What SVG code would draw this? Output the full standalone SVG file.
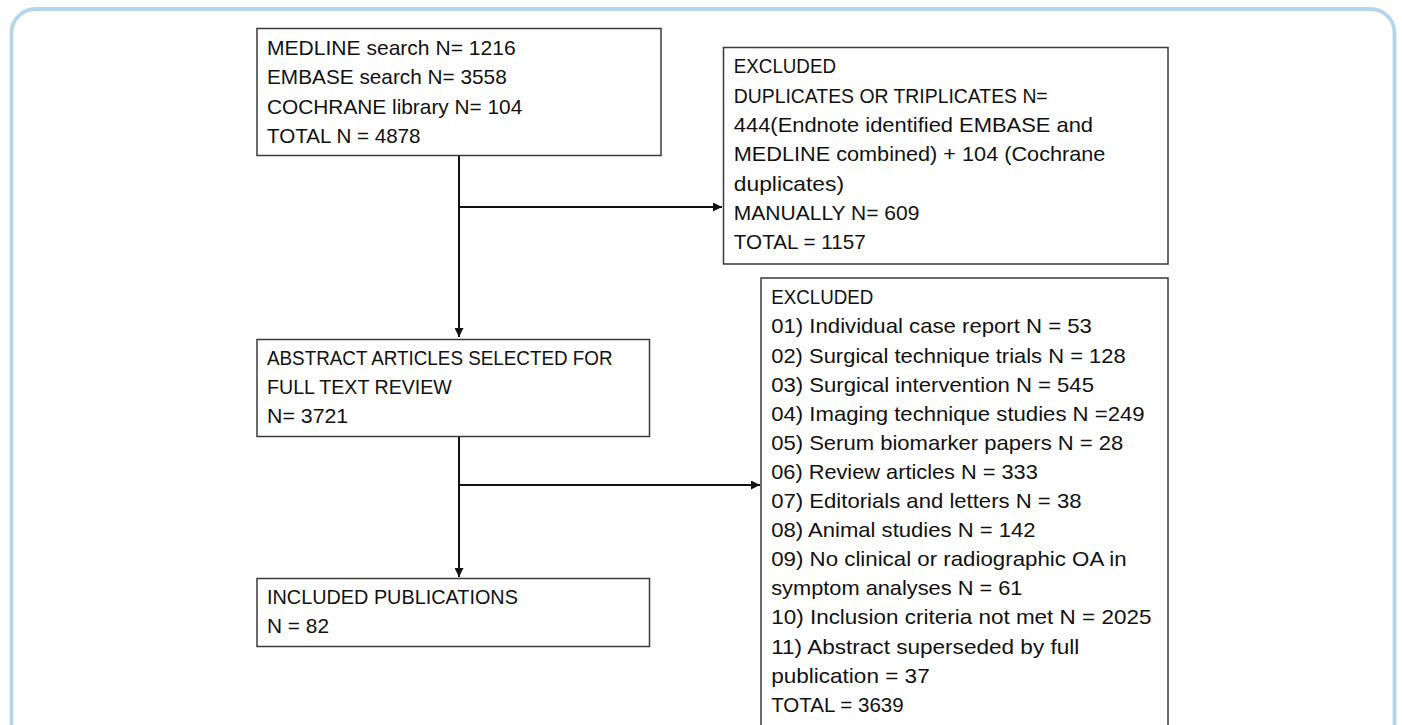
<svg xmlns="http://www.w3.org/2000/svg" width="1402" height="725" viewBox="0 0 1402 725">
<defs>
<style>
.box{fill:#fff;stroke:#3a3a3a;stroke-width:1.5}
.t{font-family:"Liberation Sans",Arial,sans-serif;font-size:21px;fill:#111}
.c{fill:none;stroke:#111;stroke-width:2}
</style>
<marker id="ah" viewBox="0 0 10 10" refX="10" refY="5" markerWidth="4.5" markerHeight="4.5" orient="auto" markerUnits="strokeWidth">
<path d="M0,0 L10,5 L0,10 z" fill="#111"/>
</marker>
</defs>
<rect width="1402" height="725" fill="#fff"/>
<path d="M11.5,760 V33 A24,24 0 0 1 35.5,9 H1370.5 A24,24 0 0 1 1394.5,33 V760" fill="none" stroke="#b5d6ea" stroke-width="3.8"/>
<g id="connectors">
<path class="c" d="M459,156 V337" marker-end="url(#ah)"/>
<path class="c" d="M459,207 H722" marker-end="url(#ah)"/>
<path class="c" d="M459,437 V577" marker-end="url(#ah)"/>
<path class="c" d="M459,485 H760" marker-end="url(#ah)"/>
</g>
<g id="sources">
<rect class="box" x="257" y="28.5" width="404" height="127"/>
<text class="t" x="267" y="55" textLength="248.6" lengthAdjust="spacingAndGlyphs">MEDLINE search N= 1216</text>
<text class="t" x="267" y="84.3" textLength="239.7" lengthAdjust="spacingAndGlyphs">EMBASE search N= 3558</text>
<text class="t" x="267" y="113.6" textLength="255.3" lengthAdjust="spacingAndGlyphs">COCHRANE library N= 104</text>
<text class="t" x="267" y="142.9" textLength="153.5" lengthAdjust="spacingAndGlyphs">TOTAL N = 4878</text>
</g>
<g id="excluded1">
<rect class="box" x="723.5" y="47.5" width="444.5" height="216.5"/>
<text class="t" x="733.8" y="73.3" textLength="102.2" lengthAdjust="spacingAndGlyphs">EXCLUDED</text>
<text class="t" x="733.8" y="102.6" textLength="313.9" lengthAdjust="spacingAndGlyphs">DUPLICATES OR TRIPLICATES N=</text>
<text class="t" x="733.8" y="131.9" textLength="359.2" lengthAdjust="spacingAndGlyphs">444(Endnote identified EMBASE and</text>
<text class="t" x="733.8" y="161.2" textLength="371.6" lengthAdjust="spacingAndGlyphs">MEDLINE combined) + 104 (Cochrane</text>
<text class="t" x="733.8" y="190.5" textLength="110.2" lengthAdjust="spacingAndGlyphs">duplicates)</text>
<text class="t" x="733.8" y="219.8" textLength="185.6" lengthAdjust="spacingAndGlyphs">MANUALLY N= 609</text>
<text class="t" x="733.8" y="249.1" textLength="132" lengthAdjust="spacingAndGlyphs">TOTAL = 1157</text>
</g>
<g id="abstract">
<rect class="box" x="257" y="339.5" width="392.5" height="97"/>
<text class="t" x="267" y="364.5" textLength="345.5" lengthAdjust="spacingAndGlyphs">ABSTRACT ARTICLES SELECTED FOR</text>
<text class="t" x="267" y="393.6" textLength="184.8" lengthAdjust="spacingAndGlyphs">FULL TEXT REVIEW</text>
<text class="t" x="267" y="422.7" textLength="81.2" lengthAdjust="spacingAndGlyphs">N= 3721</text>
</g>
<g id="excluded2">
<rect class="box" x="761" y="278" width="407" height="480"/>
<text class="t" x="771.2" y="304.3" textLength="102.2" lengthAdjust="spacingAndGlyphs">EXCLUDED</text>
<text class="t" x="771.2" y="333.4" textLength="320.7" lengthAdjust="spacingAndGlyphs">01) Individual case report N = 53</text>
<text class="t" x="771.2" y="362.5" textLength="354.5" lengthAdjust="spacingAndGlyphs">02) Surgical technique trials N = 128</text>
<text class="t" x="771.2" y="391.6" textLength="322.8" lengthAdjust="spacingAndGlyphs">03) Surgical intervention N = 545</text>
<text class="t" x="771.2" y="420.7" textLength="373.4" lengthAdjust="spacingAndGlyphs">04) Imaging technique studies N =249</text>
<text class="t" x="771.2" y="449.8" textLength="352.2" lengthAdjust="spacingAndGlyphs">05) Serum biomarker papers N = 28</text>
<text class="t" x="771.2" y="478.9" textLength="266.6" lengthAdjust="spacingAndGlyphs">06) Review articles N = 333</text>
<text class="t" x="771.2" y="508" textLength="310.3" lengthAdjust="spacingAndGlyphs">07) Editorials and letters N = 38</text>
<text class="t" x="771.2" y="537.1" textLength="264.4" lengthAdjust="spacingAndGlyphs">08) Animal studies N = 142</text>
<text class="t" x="771.2" y="566.2" textLength="355.4" lengthAdjust="spacingAndGlyphs">09) No clinical or radiographic OA in</text>
<text class="t" x="771.2" y="595.3" textLength="251.3" lengthAdjust="spacingAndGlyphs">symptom analyses N = 61</text>
<text class="t" x="771.2" y="624.4" textLength="380.2" lengthAdjust="spacingAndGlyphs">10) Inclusion criteria not met N = 2025</text>
<text class="t" x="771.2" y="653.5" textLength="308.1" lengthAdjust="spacingAndGlyphs">11) Abstract superseded by full</text>
<text class="t" x="771.2" y="682.6" textLength="158.5" lengthAdjust="spacingAndGlyphs">publication = 37</text>
<text class="t" x="771.2" y="711.7" textLength="132.4" lengthAdjust="spacingAndGlyphs">TOTAL = 3639</text>
</g>
<g id="included">
<rect class="box" x="257" y="578.5" width="392.5" height="68"/>
<text class="t" x="267" y="604.3" textLength="250.9" lengthAdjust="spacingAndGlyphs">INCLUDED PUBLICATIONS</text>
<text class="t" x="267" y="633.3" textLength="62" lengthAdjust="spacingAndGlyphs">N = 82</text>
</g>
</svg>
